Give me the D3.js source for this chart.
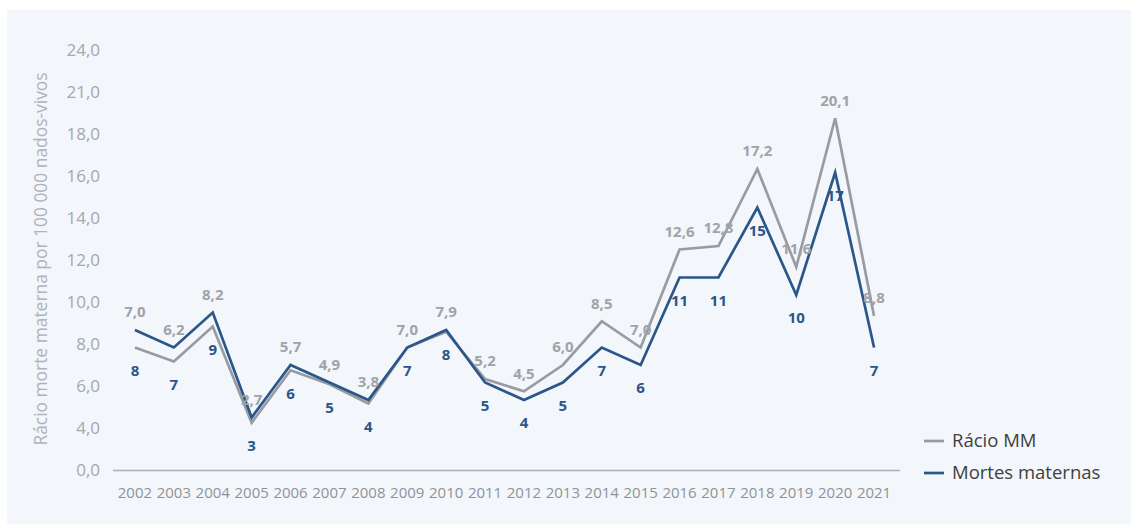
<!DOCTYPE html>
<html>
<head>
<meta charset="utf-8">
<script src="https://cdn.jsdelivr.net/npm/d3@7"></script>
<style>
  html, body { margin: 0; padding: 0; background: #ffffff; }
  svg { display: block; font-family: "Open Sans", "Noto Sans", sans-serif; }
</style>
</head>
<body>
<svg id="chart" width="1131" height="524"></svg>
<script>
const years = ["2002","2003","2004","2005","2006","2007","2008","2009","2010","2011",
               "2012","2013","2014","2015","2016","2017","2018","2019","2020","2021"];
const racioMM = [7.0, 6.2, 8.2, 2.7, 5.7, 4.9, 3.8, 7.0, 7.9, 5.2,
                 4.5, 6.0, 8.5, 7.0, 12.6, 12.8, 17.2, 11.6, 20.1, 8.8];
const mortesMaternas = [8, 7, 9, 3, 6, 5, 4, 7, 8, 5,
                        4, 5, 7, 6, 11, 11, 15, 10, 17, 7];
const yTickLabels = ["0,0","4,0","6,0","8,0","10,0","12,0","14,0","16,0","18,0","21,0","24,0"];
const seriesNames = ["Rácio MM", "Mortes maternas"];
const yTitle = "Rácio morte materna por 100 000 nados-vivos";

const greyCol = "#989ca2";
const blueCol = "#2a5689";
const greyLabel = "#a0a3a8";
const blueLabel = "#2a5689";

const svg = d3.select("#chart");
svg.append("rect").attr("x", 7).attr("y", 10).attr("width", 1124).attr("height", 514)
   .attr("fill", "#f3f6fa");

const x = d3.scaleBand().domain(years).range([115.5, 893.5]).padding(0);
const cx = d => x(d) + x.bandwidth() / 2;
const y = d3.scaleLinear().domain([0, 24]).range([470, 50]);

// Y axis (labels only)
const yTickVals = d3.range(yTickLabels.length).map(i => i * 24 / (yTickLabels.length - 1));
const yAxis = svg.append("g").attr("transform", "translate(100,0)")
  .call(d3.axisLeft(y).tickValues(yTickVals).tickFormat((d, i) => yTickLabels[i]).tickSize(0).tickPadding(0));
yAxis.select(".domain").remove();
yAxis.selectAll("text").attr("fill", "#a5a8ad").style("font-size", "17px")
  .style("font-family", "'Open Sans', sans-serif");

// X axis
const xAxis = svg.append("g").attr("transform", "translate(0,470)")
  .call(d3.axisBottom(x).tickSize(0).tickPadding(17));
xAxis.select(".domain").attr("d", "M113,0.5H900").attr("stroke", "#a9b0b8").attr("stroke-width", 1.3);
xAxis.selectAll("text").attr("fill", "#8f9398").style("font-size", "15px")
  .style("font-family", "'Open Sans', sans-serif");

// Y title
svg.append("text")
  .attr("transform", "translate(47,259) rotate(-90)")
  .attr("text-anchor", "middle")
  .attr("fill", "#b0b3b8")
  .style("font-size", "17.4px")
  .text(yTitle);

// Lines
const line = d3.line().x((d, i) => cx(years[i])).y(d => y(d));
svg.append("path").datum(racioMM).attr("d", line)
  .attr("fill", "none").attr("stroke", greyCol).attr("stroke-width", 2.7).attr("stroke-linejoin", "miter");
svg.append("path").datum(mortesMaternas).attr("d", line)
  .attr("fill", "none").attr("stroke", blueCol).attr("stroke-width", 2.7).attr("stroke-linejoin", "miter");

const fmt = v => d3.format(".1f")(v).replace(".", ",");

// Labels
svg.append("g").selectAll("text").data(racioMM).join("text")
  .attr("x", (d, i) => cx(years[i]))
  .attr("y", (d, i) => Math.min(y(d), y(mortesMaternas[i])) - 18)
  .attr("dy", "0.35em")
  .attr("text-anchor", "middle")
  .attr("fill", greyLabel)
  .style("font-size", "15px").style("font-weight", "bold")
  .text(d => fmt(d));

svg.append("g").selectAll("text").data(mortesMaternas).join("text")
  .attr("x", (d, i) => cx(years[i]))
  .attr("y", (d, i) => Math.max(y(d), y(racioMM[i])) + 23)
  .attr("dy", "0.35em")
  .attr("text-anchor", "middle")
  .attr("fill", blueLabel)
  .style("font-size", "15px").style("font-weight", "bold")
  .text(d => d);

// Legend
const legend = svg.append("g").attr("transform", "translate(924,441)");
[greyCol, blueCol].forEach((c, i) => {
  const g = legend.append("g").attr("transform", `translate(0,${i * 32})`);
  g.append("line").attr("x1", 0).attr("x2", 20).attr("y1", 0).attr("y2", 0)
    .attr("stroke", c).attr("stroke-width", 2.7);
  g.append("text").attr("x", 28).attr("y", 0).attr("dy", "0.35em")
    .attr("fill", "#404040").style("font-size", "18.5px").text(seriesNames[i]);
});
</script>
</body>
</html>
